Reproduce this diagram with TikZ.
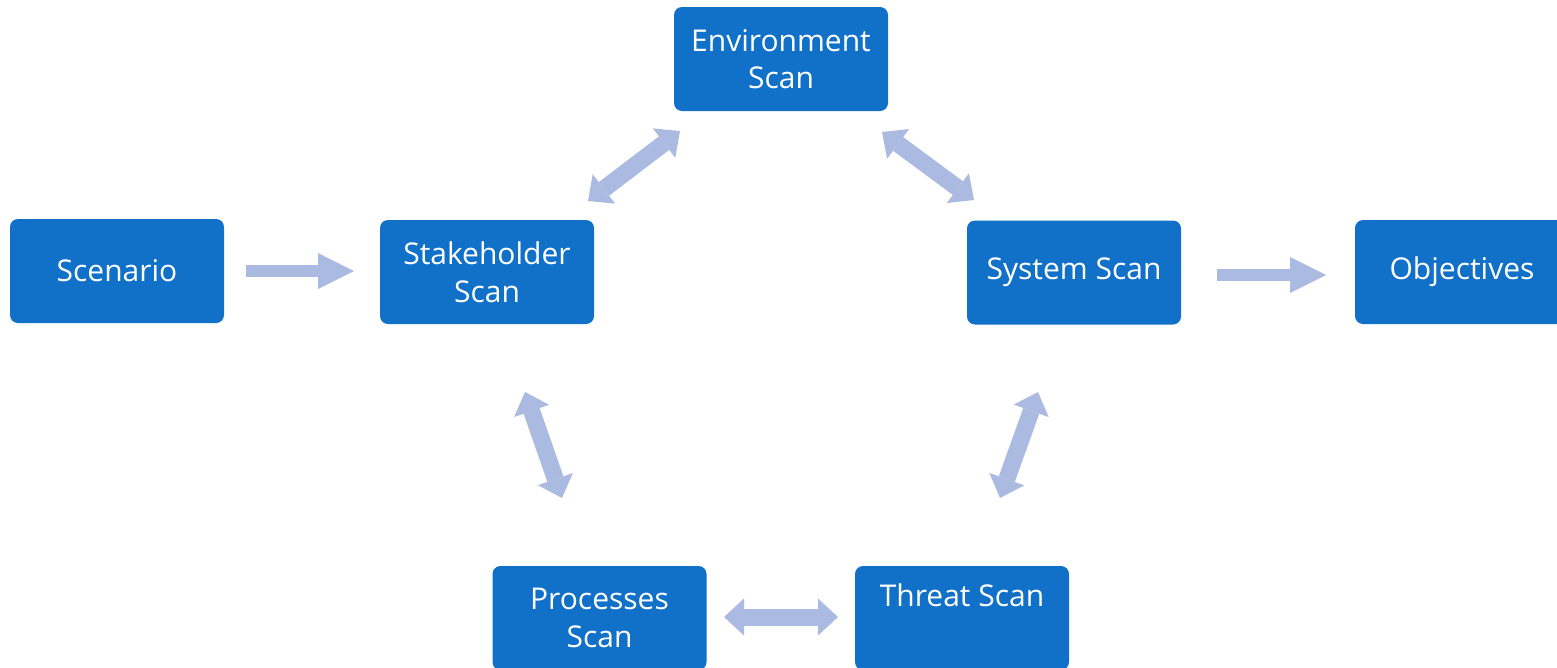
\documentclass[tikz,border=0pt]{standalone}
\usepackage{fontspec}
\setmainfont{Open Sans}
\usetikzlibrary{arrows.meta}
\definecolor{boxblue}{RGB}{17,112,200}
\definecolor{arrowc}{RGB}{171,186,224}
\tikzset{
  box/.style={fill=boxblue, draw=none, rounded corners=8pt, minimum width=214pt,
    minimum height=104pt, inner sep=0pt, text=white, align=center,
    font=\fontsize{30pt}{37.5pt}\selectfont},
  dblock/.style={draw=arrowc, line width=17pt,
    {Triangle[length=20pt,width=37pt,line width=0pt]}-{Triangle[length=20pt,width=37pt,line width=0pt]}},
  sblock/.style={draw=arrowc, line width=12pt,
    -{Triangle[length=36pt,width=36pt,line width=0pt]}}
}
\begin{document}
\begin{tikzpicture}[x=1pt,y=-1pt]
\useasboundingbox (0,0) rectangle (1557,667);
\node[box] (scen) at (117,271) {Scenario};
\node[box] (stake) at (487,272) {Stakeholder\\Scan};
\node[box] (env) at (781,59) {Environment\\Scan};
\node[box] (sys) at (1074,272.5) {\raisebox{-3pt}{System Scan}};
\node[box] (obj) at (1462,272) {\raisebox{8pt}{Objectives}};
\node[box] (proc) at (599.5,618) {Processes\\Scan};
\node[box] (threat) at (962,618) {\raisebox{46pt}{Threat Scan}};
% arrow end points
\coordinate (a1s) at (246,271);  \coordinate (a1e) at (354,271);
\coordinate (a2s) at (1217,275); \coordinate (a2e) at (1326,275);
\coordinate (b1s) at (588,201);  \coordinate (b1e) at (680,131);
\coordinate (b2s) at (882,132);  \coordinate (b2e) at (974,200);
\coordinate (b3s) at (525,392);  \coordinate (b3e) at (562,498);
\coordinate (b4s) at (1038,392); \coordinate (b4e) at (1000,498);
\coordinate (b5s) at (724,617);  \coordinate (b5e) at (838,617);
\draw[sblock] (a1s) -- (a1e);
\draw[sblock] (a2s) -- (a2e);
\draw[dblock] (b1s) -- (b1e);
\draw[dblock] (b2s) -- (b2e);
\draw[dblock] (b3s) -- (b3e);
\draw[dblock] (b4s) -- (b4e);
\draw[dblock] (b5s) -- (b5e);
\end{tikzpicture}
\end{document}
